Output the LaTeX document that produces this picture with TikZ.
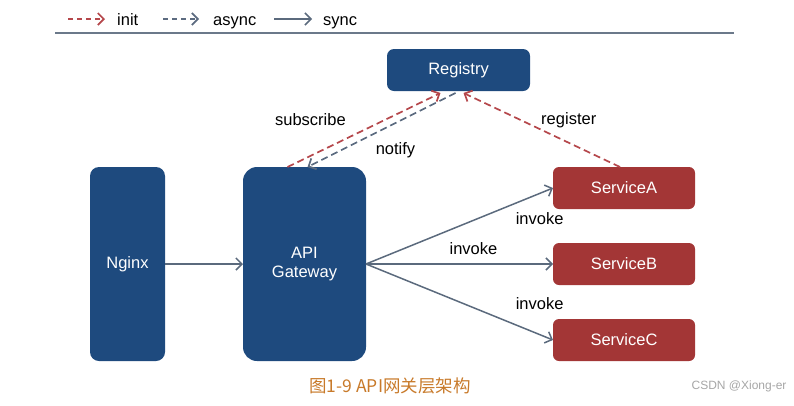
\documentclass[tikz,border=0pt]{standalone}
\usepackage{fontspec}
\setmainfont{Liberation Sans}
\newfontfamily\cjk{Noto Sans CJK SC}
\usetikzlibrary{arrows.meta,positioning}
\definecolor{gwColor}{HTML}{1E4A7E}
\definecolor{svColor}{HTML}{A33636}
\definecolor{syncColor}{HTML}{5B6A7D}
\definecolor{initColor}{HTML}{B5474B}
\definecolor{asyncColor}{HTML}{5C6B80}
\definecolor{capColor}{HTML}{C87A2A}
\tikzset{
	blubox/.style={fill=gwColor, text=white, rounded corners=#1, inner sep=0, outer sep=0},
	blubox/.default=7pt,
	redbox/.style={fill=svColor, text=white, rounded corners=6pt, inner sep=0, outer sep=0,
		minimum width=142pt, minimum height=42pt},
	sync/.style={draw=syncColor, line width=1.5pt, -{Straight Barb[length=6pt,width=12pt]}},
	init/.style={draw=initColor, line width=1.7pt, dash pattern=on 7pt off 4pt,
		-{Straight Barb[length=6pt,width=12pt]}},
	async/.style={draw=asyncColor, line width=1.7pt, dash pattern=on 7pt off 4pt,
		-{Straight Barb[length=6pt,width=12pt]}},
	lbl/.style={text=black, inner sep=1pt}
}
\begin{document}
\begin{tikzpicture}[x=1pt, y=-1pt, font=\fontsize{16.5}{19}\selectfont]
	\useasboundingbox (0,0) rectangle (794,405);
	% legend
	\coordinate (i1) at (68,19); \coordinate (i2) at (105,19);
	\coordinate (a1) at (163,19); \coordinate (a2) at (199,19);
	\coordinate (s1) at (274,19); \coordinate (s2) at (312,19);
	\draw[init, dash pattern=on 5pt off 4pt] (i1) -- (i2);
	\draw[async, dash pattern=on 5pt off 4pt] (a1) -- (a2);
	\draw[sync] (s1) -- (s2);
	\node[lbl, anchor=base west] (initlbl) at (116,25) {init};
	\node[lbl, anchor=base west] (asynclbl) at (212,25) {async};
	\node[lbl, anchor=base west] (synclbl) at (322,25) {sync};
	\coordinate (l1) at (55,33); \coordinate (l2) at (734,33);
	\draw[syncColor!90, line width=2pt] (l1) -- (l2);
	% boxes
	\node[blubox] (reg) at (458.5,70) [minimum width=143pt, minimum height=42pt] {Registry};
	\node[blubox=9pt] (nginx) at (127.5,264) [minimum width=75pt, minimum height=194pt] {Nginx};
	\node[blubox=14pt, align=center] (gw) at (304.5,264) [minimum width=123pt, minimum height=194pt] {API\\Gateway};
	\node[redbox] (sa) at (624,188) {ServiceA};
	\node[redbox] (sb) at (624,264) {ServiceB};
	\node[redbox] (sc) at (624,340) {ServiceC};
	% registry links
	\path ([xshift=-17pt]gw.north) edge[init] node[lbl, pos=.64, xshift=-75pt] {subscribe} ([xshift=-18pt,yshift=-2pt]reg.south);
	\path ([xshift=-3pt,yshift=-2pt]reg.south) edge[async] node[lbl, pos=.5, xshift=14pt, yshift=-20pt] {notify} ([xshift=3pt]gw.north);
	\path ([xshift=-4pt]sa.north) edge[init] node[lbl, pos=.5, xshift=27pt, yshift=10pt] {register} ([xshift=5pt,yshift=-2pt]reg.south);
	% calls
	\path (nginx) edge[sync] (gw);
	\path (gw.east) edge[sync] node[lbl, pos=.8, xshift=24pt, yshift=-15pt] {invoke} (sa.west);
	\path (gw.east) edge[sync] node[lbl, pos=.5, xshift=14pt, yshift=15pt] {invoke} (sb.west);
	\path (gw.east) edge[sync] node[lbl, pos=.8, xshift=24pt, yshift=21pt] {invoke} (sc.west);
	% caption
	\node[text=capColor, font=\cjk\fontsize{17.5}{20}\selectfont] (cap) at (390,386) {图1-9 API网关层架构};
	\node[text=black!35, font=\fontsize{12}{14}\selectfont, anchor=east] (wm) at (790,386) {CSDN @Xiong-er};
\end{tikzpicture}
\end{document}
